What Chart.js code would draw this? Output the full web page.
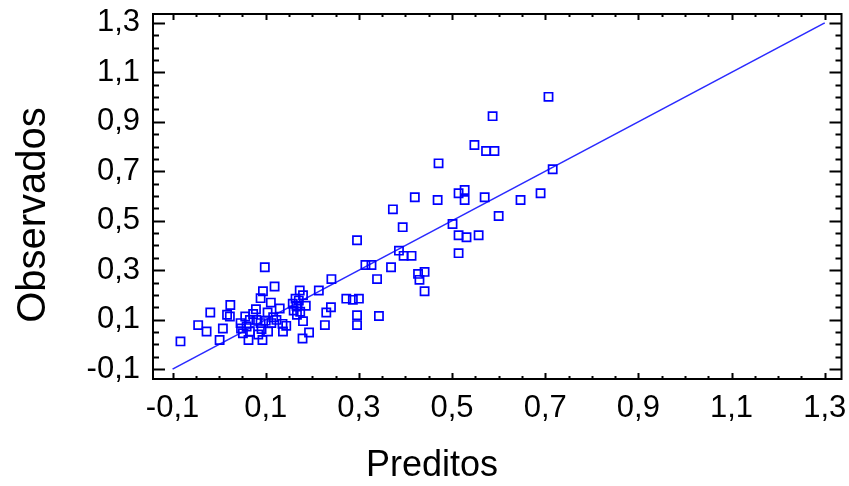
<!DOCTYPE html>
<html>
<head>
<meta charset="utf-8">
<script src="https://cdn.jsdelivr.net/npm/chart.js@4.4.1/dist/chart.umd.min.js"></script>
<style>
  html, body { margin: 0; padding: 0; background: #fff; }
  #wrap { width: 849px; height: 486px; }
</style>
</head>
<body>
<div id="wrap"><canvas id="chart" width="849" height="486"></canvas></div>
<script>
const preditos = [
  0.707, 0.587, 0.548, 0.573, 0.591, 0.471, 0.716, 0.690, 0.647, 0.514,
  0.527, 0.527, 0.570, 0.469, 0.420, 0.373, 0.600, 0.501, 0.394, 0.514,
  0.531, 0.557, 0.296, 0.514, 0.386, 0.396, 0.413, 0.314, 0.327, 0.369,
  0.241, 0.339, 0.427, 0.441, 0.430, 0.441, 0.273, 0.287, 0.300, 0.240,
  0.296, 0.343, 0.296, 0.227, 0.230, 0.193, 0.179, 0.214,
  0.098, 0.119, 0.094, 0.173, 0.180, 0.089, 0.111, 0.164, 0.171, 0.158,
  0.166, 0.186, 0.024, 0.079, 0.073, 0.104, 0.130, 0.160, 0.174, 0.167,
  -0.019, 0.017, 0.023, 0.056, 0.066, 0.046, 0.059, 0.080, 0.089, 0.100,
  0.112, 0.123, 0.136, 0.144, 0.180, -0.045, -0.027, 0.008, 0.051, 0.066,
  0.091, 0.105, 0.137, 0.001, 0.063, 0.093, -0.083, 0.116, 0.047, 0.084
];
const observados = [
  1.001, 0.923, 0.806, 0.782, 0.782, 0.732, 0.708, 0.611, 0.584, 0.611,
  0.624, 0.584, 0.595, 0.584, 0.595, 0.546, 0.519, 0.487, 0.474, 0.441,
  0.433, 0.441, 0.421, 0.369, 0.379, 0.358, 0.358, 0.321, 0.321, 0.312,
  0.264, 0.264, 0.285, 0.293, 0.261, 0.215, 0.185, 0.180, 0.185, 0.150,
  0.118, 0.115, 0.078, 0.078, 0.129, 0.048, 0.024, 0.218,
  0.312, 0.234, 0.215, 0.218, 0.199, 0.187, 0.169, 0.185, 0.177, 0.164,
  0.156, 0.156, 0.159, 0.142, 0.123, 0.129, 0.145, 0.137, 0.132, 0.120,
  0.129, 0.120, 0.113, 0.113, 0.099, 0.086, 0.072, 0.099, 0.086, 0.096,
  0.086, 0.099, 0.083, 0.075, 0.094, 0.078, 0.052, 0.064, 0.045, 0.052,
  0.062, 0.052, 0.052, 0.018, 0.018, 0.018, 0.012, 0.110, 0.064, 0.040
];
// reference line y = x
const lineX = [-0.1, 1.3];
const lineY = [-0.1, 1.3];

const tickVals = [-0.1, 0.1, 0.3, 0.5, 0.7, 0.9, 1.1, 1.3];
const minorStep = 0.05;
const axisMin = -0.142, axisMax = 1.336;

const fmt = v => v.toFixed(1).replace('.', ',');
const labelFont = { family: "'Liberation Sans Narrow', 'Liberation Sans', Arial, sans-serif", size: 31 };

// frame + inward tick marks, like the original plot box
const framePlugin = {
  id: 'frame',
  afterDraw(chart) {
    const { ctx, chartArea: a, scales: { x, y } } = chart;
    ctx.save();
    ctx.strokeStyle = '#000';
    ctx.lineWidth = 2;
    ctx.strokeRect(a.left, a.top, a.right - a.left, a.bottom - a.top);
    ctx.beginPath();
    for (let i = 0; i <= 28; i++) {
      const v = -0.1 + i * minorStep;
      const major = i % 4 === 0;
      const px = Math.round(x.getPixelForValue(v)) + 0.5;
      const py = Math.round(y.getPixelForValue(v)) + 0.5;
      const hl = major ? 6 : 3;   // top / bottom
      const vl = major ? 12 : 6;  // left / right
      ctx.moveTo(px, a.bottom); ctx.lineTo(px, a.bottom - hl);
      ctx.moveTo(px, a.top); ctx.lineTo(px, a.top + hl);
      ctx.moveTo(a.left, py); ctx.lineTo(a.left + vl, py);
      ctx.moveTo(a.right, py); ctx.lineTo(a.right - vl, py);
    }
    ctx.stroke();

    // axis titles sit a bit off-centre in the original, so place them by hand
    ctx.fillStyle = '#000';
    ctx.textAlign = 'center';
    ctx.textBaseline = 'middle';
    ctx.font = "36px 'Liberation Sans', Arial, sans-serif";
    ctx.fillText('Preditos', 432, 466);
    ctx.translate(34, 215);
    ctx.rotate(-Math.PI / 2);
    ctx.font = "40px 'Liberation Sans', Arial, sans-serif";
    ctx.fillText('Observados', 0, 0);
    ctx.restore();
  }
};

const setTicks = scale => { scale.ticks = tickVals.map(v => ({ value: v })); };

new Chart(document.getElementById('chart'), {
  type: 'scatter',
  data: {
    datasets: [
      {
        label: 'Observados',
        data: preditos.map((p, i) => ({ x: p, y: observados[i] })),
        pointStyle: 'rect',
        pointRadius: 5.8,
        borderColor: '#0000ff',
        backgroundColor: 'rgba(0,0,0,0)',
        borderWidth: 1.7
      },
      {
        type: 'line',
        label: 'y = x',
        data: lineX.map((v, i) => ({ x: v, y: lineY[i] })),
        borderColor: '#2a2aff',
        borderWidth: 1.6,
        pointRadius: 0,
        fill: false
      }
    ]
  },
  options: {
    responsive: false,
    animation: false,
    layout: { padding: { top: 14, right: 6, left: 0, bottom: 0 } },
    plugins: { legend: { display: false }, tooltip: { enabled: false } },
    scales: {
      x: {
        type: 'linear',
        min: axisMin, max: axisMax,
        afterBuildTicks: setTicks,
        afterFit: s => { s.height = 107; s.paddingLeft = 0; s.paddingRight = 0; },
        grid: { display: false, drawTicks: false },
        border: { display: false },
        ticks: { color: '#000', font: labelFont, padding: 11, callback: v => fmt(v), maxRotation: 0, autoSkip: false }
      },
      y: {
        type: 'linear',
        min: axisMin + 0.002, max: axisMax,
        afterBuildTicks: setTicks,
        afterFit: s => { s.width = 153; s.paddingTop = 0; s.paddingBottom = 0; },
        grid: { display: false, drawTicks: false },
        border: { display: false },
        ticks: { color: '#000', font: labelFont, padding: 13, callback: v => fmt(v), autoSkip: false }
      }
    }
  },
  plugins: [framePlugin]
});
</script>
</body>
</html>
